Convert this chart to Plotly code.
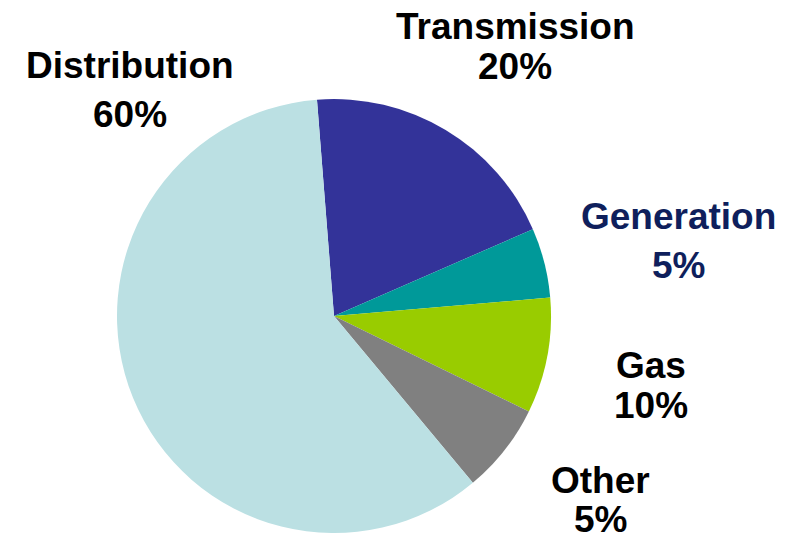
import plotly.graph_objects as go

# slices in clockwise order starting near 12 o'clock
labels = ["Transmission", "Generation", "Gas", "Other", "Distribution"]
values = [19.7, 5.2, 8.6, 6.7, 59.8]
pct_labels = ["20%", "5%", "10%", "5%", "60%"]
colors = ["#333399", "#009999", "#99CC00", "#808080", "#BBE0E3"]
label_colors = ["#000000", "#0F1F5C", "#000000", "#000000", "#000000"]

# page body adds an 8px margin, so the figure is sized to fit the window
OFF = 8
W, H = 802 - 2 * OFF, 543 - 2 * OFF
cx, cy, r = 334 - OFF, 316 - OFF, 217

fig = go.Figure(go.Pie(
    labels=labels,
    values=values,
    sort=False,
    direction="clockwise",
    rotation=-4.5,
    marker=dict(colors=colors, line=dict(width=0)),
    textinfo="none",
    hoverinfo="label+percent",
    showlegend=False,
    domain=dict(x=[(cx - r) / W, (cx + r) / W], y=[1 - (cy + r) / H, 1 - (cy - r) / H]),
))

# label positions in window pixels: x centre, y of name line, y of percent line
label_pos = [(515, 27, 67), (678, 216, 265), (651, 365, 405), (600, 480, 519), (130, 65, 115)]
for name, pct, col, (lx, y1, y2) in zip(labels, pct_labels, label_colors, label_pos):
    for txt, ly in ((name, y1), (pct, y2)):
        fig.add_annotation(
            x=(lx - OFF) / W, y=1 - (ly - OFF) / H, xref="paper", yref="paper",
            text=f"<b>{txt}</b>",
            showarrow=False, xanchor="center", yanchor="middle", align="center",
            font=dict(family="Liberation Sans, Arial", size=37, color=col),
        )

fig.update_layout(
    width=W, height=H,
    margin=dict(t=0, b=0, l=0, r=0),
    paper_bgcolor="white",
    plot_bgcolor="white",
)

fig.write_html("out.html")
